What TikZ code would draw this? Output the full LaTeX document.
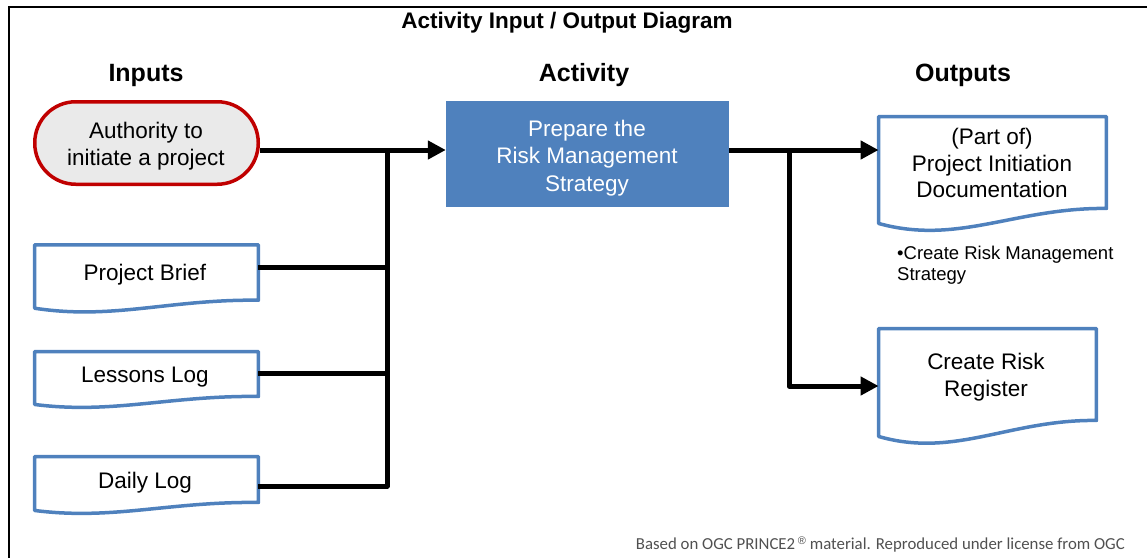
\documentclass[tikz,border=0pt]{standalone}
\usepackage{fontspec}
\setmainfont{Liberation Sans}
\newfontfamily\footfont{Carlito}
\usetikzlibrary{calc,arrows.meta}
\definecolor{docblue}{HTML}{4F81BD}
\definecolor{actblue}{HTML}{4F81BD}
\definecolor{termred}{HTML}{C00000}
\definecolor{termgrey}{HTML}{EAEAEA}
\definecolor{footgrey}{HTML}{505050}
\newcommand{\docoutline}[3]{%
  \draw[docline] (#1.north west) -- (#1.north east) -- (#1.south east)
    .. controls ($(#1.south east)!0.4!(#1.south west)+(0,-1)$)
    and ($(#1.south east)!0.65!(#1.south west)+(0,#3)$)
    .. ($(#1.south west)+(0,#2)$) -- cycle;}
\begin{document}
\begin{tikzpicture}[x=1pt,y=-1pt,
  boxtext/.style={font=\fontsize{22.5}{27.5}\selectfont, align=center, inner sep=0pt},
  shp/.style={inner sep=0pt},
  heading/.style={font=\bfseries\fontsize{25}{29}\selectfont, inner sep=0pt},
  docline/.style={draw=docblue, line width=3.5pt, line join=round},
  conn/.style={line width=5pt, line join=round},
  arr/.style={conn, -{Triangle[length=18pt,width=18pt]}},
  terminal/.style={shp, draw=termred, fill=termgrey, line width=3.5pt, rounded corners=41pt},
  activity/.style={shp, fill=actblue}
]
\useasboundingbox (0,0) rectangle (1147,557);
\draw[line width=2.5pt] (9,560) -- (9,7) -- (1150,7);

\node[font=\bfseries\fontsize{22.5}{26}\selectfont, inner sep=0pt] (title) at (567,23) {Activity Input / Output Diagram};
\node[heading] (hin) at (146,75) {Inputs};
\node[heading] (hact) at (584,75) {Activity};
\node[heading] (hout) at (963,75) {Outputs};

% shapes
\node[terminal, minimum width=223.5pt, minimum height=82.5pt] (auth) at (146.5,143) {};
\node[shp, minimum width=223.5pt, minimum height=55pt] (brief) at (146.5,272.5) {};
\docoutline{brief}{8}{20}
\node[shp, minimum width=223.5pt, minimum height=44.5pt] (lessons) at (146.5,374) {};
\docoutline{lessons}{8}{18}
\node[shp, minimum width=223.5pt, minimum height=45.5pt] (daily) at (146.5,479.5) {};
\docoutline{daily}{8}{18}
\node[activity, minimum width=283pt, minimum height=106pt] (act) at (587.5,154) {};
\node[shp, minimum width=227.5pt, minimum height=91.5pt] (pid) at (992.5,162.5) {};
\docoutline{pid}{15}{37}
\node[shp, minimum width=217.5pt, minimum height=91.5pt] (risk) at (987.5,374.5) {};
\docoutline{risk}{16}{38}

% texts
\node[boxtext] (authT) at (146,146) {Authority to\\initiate a project};
\node[boxtext] (briefT) at (145,275) {Project Brief};
\node[boxtext] (lessonsT) at (145,377.5) {Lessons Log};
\node[boxtext] (dailyT) at (145,482.5) {Daily Log};
\node[boxtext, text=white] (actT) at (587,158) {Prepare the\\Risk Management\\Strategy};
\node[boxtext, font=\fontsize{22.5}{26.5}\selectfont] (pidT) at (992,163) {(Part of)\\Project Initiation\\Documentation};
\node[boxtext] (riskT) at (986,377) {Create Risk\\Register};

\node[font=\fontsize{18.5}{21}\selectfont, align=left, anchor=west, inner sep=0pt] (bullet) at (897,265.5) {•Create Risk Management\\Strategy};

\node[font=\footfont\fontsize{16.8}{19}\selectfont, text=footgrey, anchor=east, inner sep=0pt] (foot) at (1125,545) {Based on OGC PRINCE2\,{\rmfamily\fontsize{11}{11}\selectfont\raisebox{5pt}{®}} material. Reproduced under license from OGC};

\coordinate (b1) at (387,150);
\coordinate (b2) at (387,267);
\coordinate (b3) at (387,373);
\coordinate (b4) at (387,486);
\coordinate (o1) at (789,150);
\coordinate (o2) at (789,386);

\draw[arr] (auth.east |- b1) -- (act.west |- b1);
\draw[conn] (brief.east |- b2) -- (b2);
\draw[conn] (lessons.east |- b3) -- (b3);
\draw[conn] (daily.east |- b4) -- (b4) -- (b1);
\draw[arr] (act.east |- o1) -- (pid.west |- o1);
\draw[arr] (o1) -- (o2) -- (risk.west |- o2);
\end{tikzpicture}
\end{document}
